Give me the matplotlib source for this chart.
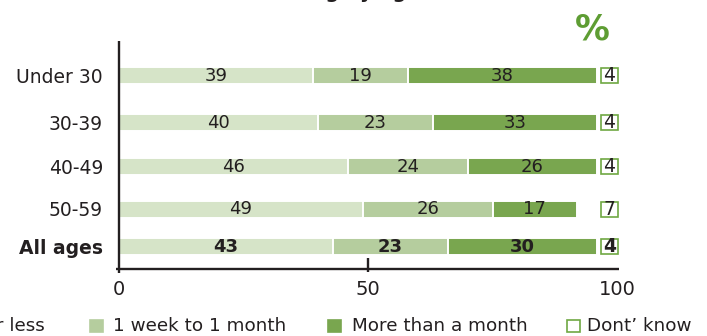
import matplotlib
matplotlib.use("Agg")
import matplotlib.pyplot as plt
from matplotlib.patches import Rectangle
import numpy as np

plt.rcParams['font.family'] = ['DejaVu Sans']

# ---- data ----
categories = ["Under 30", "30-39", "40-49", "50-59", "All ages"]
week_or_less = [39, 40, 46, 49, 43]
week_to_month = [19, 23, 24, 26, 23]
more_than_month = [38, 33, 26, 17, 30]
dont_know = [4, 4, 4, 7, 4]
series_names = ["1 week or less", "1 week to 1 month", "More than a month", "Dont\u2019 know"]
x_ticks = [0, 50, 100]

# ---- style / layout ----
W, H = 707, 336
c_light = "#d6e4c8"
c_mid = "#b5cd9e"
c_dark = "#79a64f"
c_box = "#6fa843"
c_pct = "#5e9d33"
c_ink = "#231f20"
row_pos = [75.3, 122, 166.5, 209, 246.5]   # vertical layout (pixel rows)
bar_h = 17

fig = plt.figure(figsize=(W / 100, H / 100), dpi=100)
ax_top, ax_bot = 41, 269
ax = fig.add_axes([119 / W, (H - ax_bot) / H, 498 / W, (ax_bot - ax_top) / H])
ax.set_xlim(0, 100)
ax.set_ylim(ax_bot, ax_top)
for s in ax.spines.values():
    s.set_visible(False)

left = np.zeros(len(categories))
for vals, col in [(week_or_less, c_light), (week_to_month, c_mid), (more_than_month, c_dark)]:
    vals = np.array(vals, dtype=float)
    ax.barh(row_pos, vals, left=left, height=bar_h, color=col,
            edgecolor="white", linewidth=1.4)
    for i, (v, l) in enumerate(zip(vals, left)):
        bold = categories[i] == "All ages"
        ax.text(l + v / 2, row_pos[i] + 0.5, f"{int(v)}", ha="center", va="center",
                fontsize=13, color=c_ink, fontweight="bold" if bold else "normal")
    left += vals

# don't know boxes at right end
box_x, box_w = 96.7, 3.6
for i, v in enumerate(dont_know):
    ax.add_patch(Rectangle((box_x, row_pos[i] - 7.5), box_w, 15, facecolor="white",
                           edgecolor=c_box, linewidth=1.2, clip_on=False, zorder=3))
    bold = categories[i] == "All ages"
    ax.text(box_x + box_w / 2, row_pos[i] + 0.5, f"{v}", ha="center", va="center",
            fontsize=13.5, color=c_ink, fontweight="bold" if bold else "normal", zorder=4)

# axes lines
ax.plot([-0.7, 100.4], [ax_bot, ax_bot], color=c_ink, lw=1.7, clip_on=False,
        solid_capstyle="butt")
ax.plot([0, 0], [ax_top, ax_bot + 3.5], color=c_ink, lw=1.7, clip_on=False,
        solid_capstyle="butt")
ax.plot([50, 50], [ax_bot - 11, ax_bot + 3], color=c_ink, lw=1.7, clip_on=False,
        solid_capstyle="butt")

ax.set_xticks(x_ticks)
ax.set_xticklabels([str(t) for t in x_ticks])
ax.tick_params(axis="x", length=0, pad=8, labelsize=14, labelcolor=c_ink)
ax.set_yticks(row_pos)
ax.set_yticklabels(categories)
ax.tick_params(axis="y", length=0, pad=11.5, labelsize=13.5, labelcolor=c_ink)
ax.get_yticklabels()[-1].set_fontweight("bold")

# percent sign
fig.text(592 / W, 1 - 30 / H, "%", ha="center", va="center", color=c_pct,
         fontsize=25, fontweight="bold", family=["Liberation Sans Narrow", "DejaVu Sans"])

# partially visible title (cut off at top, as in the reference)
fig.text(337 / W, 1 + 1.5 / H, "Waiting by age", ha="center", va="baseline",
         fontsize=14, fontweight="bold", color=c_ink)

# legend (manual, bottom, first item cut off on the left)
leg_y = 331  # text baseline, pixel row
sq = 13
items = [
    (-110, -85, c_light, c_light),
    (90, 113, c_mid, c_mid),
    (328, 352, c_dark, c_dark),
    (567, 587, "white", c_box),
]
for (sx, tx, fc, ec), name in zip(items, series_names):
    fig.patches.append(Rectangle((sx / W, (H - 332) / H), sq / W, 12 / H,
                                 transform=fig.transFigure, facecolor=fc,
                                 edgecolor=ec, linewidth=1.2))
    if tx < 0:
        fig.text(45 / W, (H - leg_y) / H, name, ha="right", va="baseline",
                 fontsize=13.2, color=c_ink)
    else:
        fig.text(tx / W, (H - leg_y) / H, name, ha="left", va="baseline",
                 fontsize=13.2, color=c_ink)

fig.savefig("out.png", dpi=100)
